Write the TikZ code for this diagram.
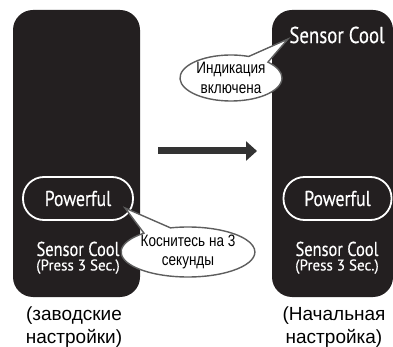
\documentclass[tikz,border=0pt]{standalone}
\usepackage{fontspec}
\setmainfont{Liberation Sans}
\newfontfamily\panelfont[FakeStretch=0.82,FakeBold=0.3]{PT Sans}
\newfontfamily\pressfont[FakeStretch=0.97,FakeBold=0.3]{PT Sans}
\newfontfamily\callfont[FakeStretch=0.82]{Liberation Sans}
\usetikzlibrary{shapes.callouts,arrows.meta}
\definecolor{panelblack}{HTML}{231F20}
\definecolor{callgray}{HTML}{5E5E5E}
\definecolor{arrowgray}{HTML}{333333}
\tikzset{
  panel/.style={fill=panelblack, rounded corners=20pt},
  pill/.style={draw=white, line width=1.8pt, rounded corners=21pt, minimum width=110pt, minimum height=43pt, text=white, font=\panelfont\fontsize{21.5}{22}\selectfont},
  paneltext/.style={text=white, align=center, inner sep=0pt},
  bubble/.style={ellipse callout, draw=callgray, line width=1.4pt, fill=white, align=center, inner sep=0pt, callout pointer arc=26, font=\callfont\fontsize{16.5}{19.5}\selectfont},
  caption/.style={align=center, inner sep=0pt, font=\fontsize{19}{23}\selectfont}
}
\begin{document}
\begin{tikzpicture}[x=1pt,y=-1pt]
\useasboundingbox (0,0) rectangle (393,347);
% panels
\fill[panel] (13,10) rectangle (140,297);
\fill[panel] (272,10) rectangle (393,297);
% left panel content
\node[pill] (pwL) at (78,198.5) {Powerful};
\node[paneltext, anchor=north] (scL) at (78,241.5) {\panelfont\fontsize{20}{17}\selectfont Sensor Cool\\[2.5pt]\pressfont\fontsize{15.5}{17}\selectfont (Press 3 Sec.)};
% right panel content
\node[paneltext, font=\panelfont\fontsize{23}{23}\selectfont] (scTop) at (337,35) {Sensor Cool};
\node[pill, minimum width=108pt] (pwR) at (337.5,198.5) {Powerful};
\node[paneltext, anchor=north] (scR) at (337,241.5) {\panelfont\fontsize{20}{17}\selectfont Sensor Cool\\[2.5pt]\pressfont\fontsize{15.5}{17}\selectfont (Press 3 Sec.)};
% arrow
\coordinate (aS) at (158,151);
\coordinate (aE) at (257,151);
\draw[arrowgray, line width=7pt, -{Triangle[length=11pt,width=19pt]}] (aS) -- (aE);
% callouts
\coordinate (tipTop) at (288,39);
\node[bubble, minimum width=102pt, minimum height=46pt, callout absolute pointer={(tipTop)}] (cTop) at (231,78) {Индикация\\включена};
\coordinate (tipBot) at (125,208);
\node[bubble, minimum width=125pt, minimum height=50pt, callout absolute pointer={(tipBot)}] (cBot) at (188,252) {Коснитесь на 3\\секунды};
% captions
\node[caption] (capL) at (74,327) {(заводские\\настройки)};
\node[caption] (capR) at (334,327) {(Начальная\\настройка)};
\end{tikzpicture}
\end{document}
